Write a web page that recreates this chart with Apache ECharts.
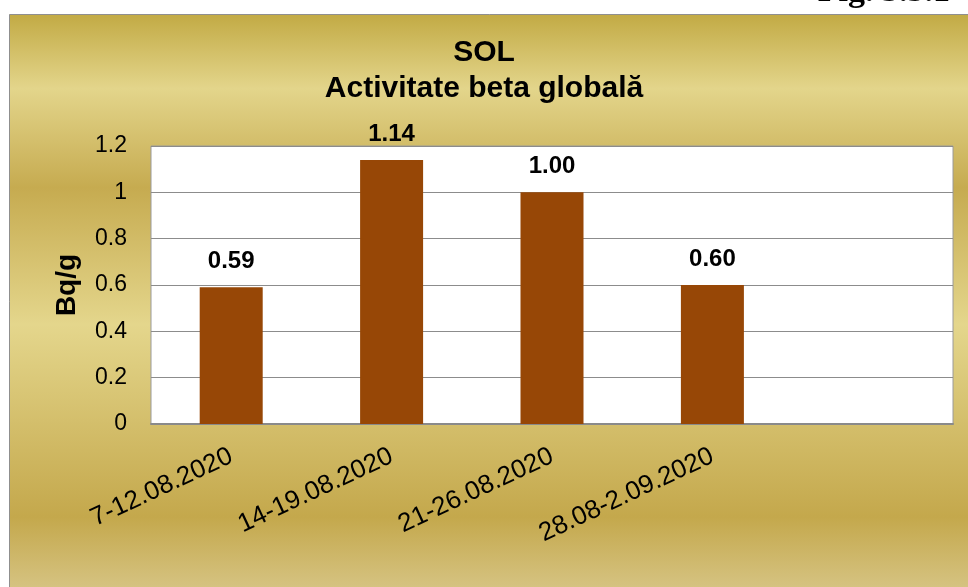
<!DOCTYPE html>
<html>
<head>
<meta charset="utf-8">
<title>SOL - Activitate beta globală</title>
<script src="https://cdn.jsdelivr.net/npm/echarts@6/dist/echarts.min.js"></script>
<style>
  html, body { margin: 0; padding: 0; background: #fff; }
  #chart { width: 968px; height: 587px; }
</style>
</head>
<body>
<div id="chart"></div>
<script>
// date din grafic
var categories = ['7-12.08.2020', '14-19.08.2020', '21-26.08.2020', '28.08-2.09.2020', '']
var values = [0.59, 1.14, 1.00, 0.60, null]
var yTicks = { min: 0, max: 1.2, step: 0.2 }

var chart = echarts.init(document.getElementById('chart'))

var gold = new echarts.graphic.LinearGradient(0, 0, 0, 1, [
  { offset: 0, color: '#c2aa44' },
  { offset: 0.12, color: '#e3d58b' },
  { offset: 0.28, color: '#c6ab50' },
  { offset: 0.50, color: '#e4d68c' },
  { offset: 0.81, color: '#c4a84c' },
  { offset: 1, color: '#e1d5a5' }
])

chart.setOption({
  backgroundColor: '#fff',
  graphic: [
    {
      type: 'rect',
      z: -10,
      silent: true,
      shape: { x: 9.5, y: 14.5, width: 1000, height: 620 },
      style: { fill: gold, stroke: '#8f8f8f', lineWidth: 1 }
    },
    {
      type: 'text',
      x: 950,
      y: -8,
      style: {
        text: 'Fig. 3.5.1',
        align: 'right',
        verticalAlign: 'middle',
        font: 'bold 34px "Liberation Serif", "Times New Roman", serif',
        fill: '#000'
      }
    }
  ],
  title: {
    text: 'SOL\nActivitate beta globală',
    left: 'center',
    top: 35,
    padding: [0, 0, 0, 20],
    textStyle: {
      fontFamily: '"Liberation Sans", Arial, sans-serif',
      fontWeight: 'bold',
      fontSize: 30,
      lineHeight: 36,
      color: '#000'
    }
  },
  grid: {
    left: 151,
    top: 146,
    width: 802,
    height: 278,
    show: true,
    backgroundColor: '#fff',
    borderColor: '#9a9a9a',
    borderWidth: 1
  },
  xAxis: {
    type: 'category',
    data: categories,
    axisTick: { show: false },
    axisLine: { lineStyle: { color: '#8a8a8a', width: 2 } },
    axisLabel: {
      interval: 0,
      rotate: 25,
      margin: 31,
      fontFamily: '"Liberation Sans", Arial, sans-serif',
      fontSize: 26,
      color: '#000'
    }
  },
  yAxis: {
    type: 'value',
    min: yTicks.min,
    max: yTicks.max,
    interval: yTicks.step,
    name: 'Bq/g',
    nameLocation: 'middle',
    nameGap: 70,
    nameRotate: 90,
    nameTextStyle: {
      fontFamily: '"Liberation Sans", Arial, sans-serif',
      fontWeight: 'bold',
      fontSize: 28,
      color: '#000'
    },
    axisLine: { show: false },
    axisTick: { show: false },
    axisLabel: {
      margin: 24,
      fontFamily: '"Liberation Sans", Arial, sans-serif',
      fontSize: 23,
      color: '#000'
    },
    splitLine: { lineStyle: { color: '#8c8c8c', width: 1 } }
  },
  series: [
    {
      type: 'bar',
      data: values,
      barWidth: 63,
      itemStyle: { color: '#974706' },
      label: {
        show: true,
        position: 'top',
        distance: 14,
        formatter: function (p) { return p.value == null ? '' : p.value.toFixed(2) },
        fontFamily: '"Liberation Sans", Arial, sans-serif',
        fontWeight: 'bold',
        fontSize: 24,
        color: '#000'
      }
    }
  ]
})
</script>
</body>
</html>
